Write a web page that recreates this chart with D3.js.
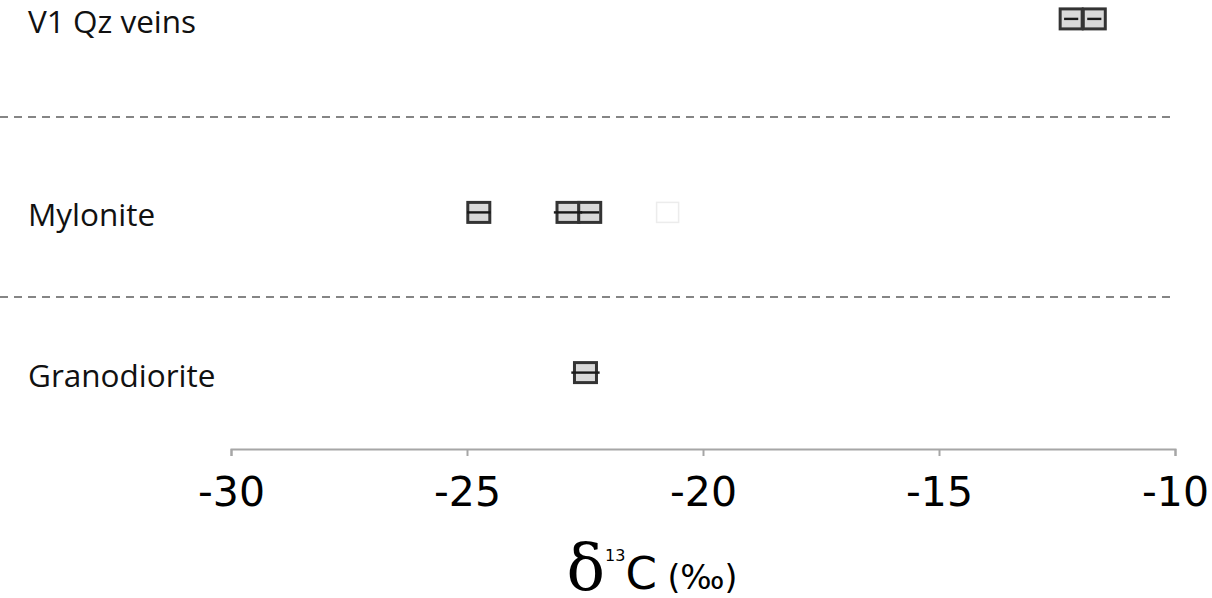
<!DOCTYPE html>
<html>
<head>
<meta charset="utf-8">
<script src="https://cdn.jsdelivr.net/npm/d3@7"></script>
<style>
  html, body { margin: 0; padding: 0; background: #fff; }
  svg { display: block; }
</style>
</head>
<body>
<svg id="chart" width="1212" height="598"></svg>
<script>
// Sample groups, bottom to top, and their row positions (row units)
const categories = ["Granodiorite", "Mylonite", "V1 Qz veins"];
const rowPos = [0.58, 1.47, 2.545];
const separators = [1, 2];

// δ13C values (‰) and analytical uncertainty per sample
const granodioriteValues = [-22.49];
const granodioriteErr = [0.3];
const myloniteValues = [-24.75, -22.86, -22.40, -20.75];
const myloniteErr = [0.25, 0.3, 0.2, 0];
const myloniteHidden = [false, false, false, true];
const v1Values = [-12.20, -11.71];
const v1Err = [0.15, 0.15];

const xTicks = [-30, -25, -20, -15, -10];

const samples = [];
granodioriteValues.forEach((v, i) => samples.push({ cat: 0, v, e: granodioriteErr[i], ghost: false }));
myloniteValues.forEach((v, i) => samples.push({ cat: 1, v, e: myloniteErr[i], ghost: myloniteHidden[i] }));
v1Values.forEach((v, i) => samples.push({ cat: 2, v, e: v1Err[i], ghost: false }));

const svg = d3.select("#chart");

const x = d3.scaleLinear().domain([-30, -10]).range([231, 1175]);
const y = d3.scaleLinear().domain([1, 2]).range([297, 117]);

// Group separators
svg.selectAll("line.sep")
  .data(separators)
  .join("line")
  .attr("class", "sep")
  .attr("x1", 0).attr("x2", x(-10))
  .attr("y1", d => y(d)).attr("y2", d => y(d))
  .attr("stroke", "#5e5e5e")
  .attr("stroke-width", 1.3)
  .attr("stroke-dasharray", "8,6");

// Group labels
svg.selectAll("text.cat")
  .data(categories)
  .join("text")
  .attr("class", "cat")
  .attr("x", 28)
  .attr("y", (d, i) => y(rowPos[i]) + 14)
  .attr("font-family", "'Open Sans', sans-serif")
  .attr("font-size", 31.5)
  .attr("fill", "#111")
  .text(d => d);

// Bottom axis
const axis = d3.axisBottom(x)
  .tickValues(xTicks)
  .tickFormat(d3.format("d"))
  .tickSize(7)
  .tickPadding(21);

const gAxis = svg.append("g")
  .attr("transform", "translate(0,449)")
  .call(axis);
gAxis.select(".domain").attr("stroke", "#a6a6a6").attr("stroke-width", 2);
gAxis.selectAll(".tick line").attr("stroke", "#a6a6a6").attr("stroke-width", 2);
gAxis.selectAll(".tick text")
  .attr("font-family", "'DejaVu Sans', Verdana, sans-serif")
  .attr("font-size", 41)
  .attr("fill", "#000")
  .text(d => String(d));

// Markers
const w = 22, h = 20;
const marks = svg.append("g");
marks.selectAll("rect")
  .data(samples)
  .join("rect")
  .attr("x", d => x(d.v) - w / 2)
  .attr("y", d => y(rowPos[d.cat]) - h / 2)
  .attr("width", w)
  .attr("height", h)
  .attr("fill", d => d.ghost ? "#fff" : "#d9d9d9")
  .attr("stroke", d => d.ghost ? "#ececec" : "#333")
  .attr("stroke-width", d => d.ghost ? 1.5 : 3);

// Error bars
marks.selectAll("line.err")
  .data(samples.filter(d => d.e > 0))
  .join("line")
  .attr("class", "err")
  .attr("x1", d => x(d.v - d.e))
  .attr("x2", d => x(d.v + d.e))
  .attr("y1", d => y(rowPos[d.cat]))
  .attr("y2", d => y(rowPos[d.cat]))
  .attr("stroke", "#1a1a1a")
  .attr("stroke-width", 2.4);

// Axis title
const title = svg.append("text")
  .attr("x", 652)
  .attr("y", 589)
  .attr("text-anchor", "middle")
  .attr("font-family", "'DejaVu Sans', sans-serif")
  .attr("fill", "#000");
title.append("tspan").attr("font-size", 64).attr("font-family", "'DejaVu Serif', serif").text("δ");
title.append("tspan").attr("font-size", 16).attr("dy", -28).text("13");
title.append("tspan").attr("font-size", 45).attr("dy", 28).text("C");
title.append("tspan").attr("font-size", 33).text(" (‰)");
</script>
</body>
</html>
